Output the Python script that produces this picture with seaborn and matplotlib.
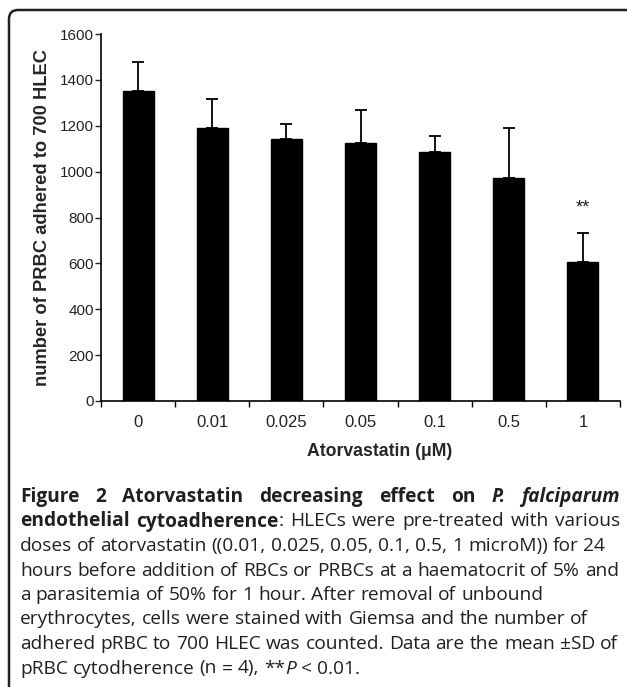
import matplotlib
matplotlib.use("Agg")
import matplotlib.pyplot as plt
from matplotlib.path import Path
from matplotlib.patches import PathPatch
import seaborn as sns
import pandas as pd

# ---- data ----
doses = ["0", "0.01", "0.025", "0.05", "0.1", "0.5", "1"]
mean_adhered = [1353, 1191, 1143, 1126, 1087, 971, 607]
sd_adhered = [123, 127, 64, 142, 68, 218, 124]
y_ticks = [0, 200, 400, 600, 800, 1000, 1200, 1400, 1600]
signif = ["", "", "", "", "", "", "**"]

W, H = 627, 687
sns.set_style("ticks")
plt.rcParams["font.family"] = ["Liberation Sans", "DejaVu Sans"]

fig = plt.figure(figsize=(W / 100, H / 100), dpi=100)
fig.patch.set_facecolor("white")

# frame (rounded top-left corner, open bottom)
bg = fig.add_axes([0, 0, 1, 1])
bg.set_xlim(0, W)
bg.set_ylim(H, 0)
bg.axis("off")
verts = [(9, H + 5), (9, 19), (9, 10), (18, 10), (627, 10)]
codes = [Path.MOVETO, Path.LINETO, Path.CURVE3, Path.CURVE3, Path.LINETO]
bg.add_patch(PathPatch(Path(verts, codes), fill=False, lw=1.8, edgecolor="#222222"))

# ---- chart ----
x0, x1, ytop, ybot = 101, 620, 34, 401
ax = fig.add_axes([x0 / W, 1 - ybot / H, (x1 - x0) / W, (ybot - ytop) / H])
df = pd.DataFrame({"dose": doses, "mean": mean_adhered})
sns.barplot(data=df, x="dose", y="mean", order=doses, color="black",
            width=0.42, errorbar=None, ax=ax, saturation=1, edgecolor="black")
xs = list(range(len(doses)))
ax.errorbar(xs, mean_adhered, yerr=[[0] * len(doses), sd_adhered], fmt="none",
            ecolor="black", elinewidth=1.3, capsize=4.5, capthick=1.3, zorder=3)
for xi, m, s, lab in zip(xs, mean_adhered, sd_adhered, signif):
    if lab:
        ax.annotate(lab, (xi, m + s), xytext=(0, 12), textcoords="offset points",
                    ha="center", va="bottom", fontsize=13, color="#222222")

ax.set_xlim(-0.5, len(doses) - 0.5)
ax.set_ylim(0, 1600)
ax.set_yticks(y_ticks)
ax.set_yticklabels([str(v) for v in y_ticks])
ax.set_xticks(xs)
ax.set_xticks([i - 0.5 for i in range(len(doses) + 1)], minor=True)
ax.tick_params(axis="x", which="major", length=0, pad=10, labelsize=12, labelcolor="#222222")
ax.tick_params(axis="x", which="minor", length=4, width=1, direction="out", color="black")
ax.tick_params(axis="y", which="major", length=4, width=1, direction="out", pad=1,
               labelsize=11, labelcolor="#222222")
sns.despine(ax=ax)
for sp in ("left", "bottom"):
    ax.spines[sp].set_linewidth(1.2)
    ax.spines[sp].set_color("black")
ax.set_facecolor("white")

ax.set_ylabel("number of PRBC adhered to 700 HLEC", fontsize=13.2, fontweight="bold")
ax.yaxis.set_label_coords((51 - x0) / (x1 - x0), 0.5)
ax.set_xlabel("Atorvastatin (\u03bcM)", fontsize=12.7, fontweight="bold")
ax.xaxis.set_label_coords((380 - x0) / (x1 - x0), (ybot - 443) / (ybot - ytop))

# ---- caption ----
CAP_FONT = ["Open Sans", "DejaVu Sans"]
CAP_SIZE = 13.8
CAP_COLOR = "#231f20"
renderer = fig.canvas.get_renderer()


def measure(txt, weight, style):
    t = fig.text(0, 0, txt, fontsize=CAP_SIZE, family=CAP_FONT, weight=weight, style=style)
    w = t.get_window_extent(renderer).width
    t.remove()
    return w


def to_words(segs):
    words, new_word = [], True
    for text, wt, st in segs:
        for i, p in enumerate(text.split(" ")):
            if i > 0:
                new_word = True
            if p == "":
                continue
            if new_word or not words:
                words.append([])
            words[-1].append((p, wt, st))
            new_word = False
    return words


def draw_line(y, segs, left=20, right=620, justify=False):
    words = to_words(segs)
    widths = [[measure(p, wt, st) for p, wt, st in w] for w in words]
    space = measure("a a", "normal", "normal") - measure("aa", "normal", "normal")
    if justify and len(words) > 1:
        total = sum(sum(w) for w in widths)
        gap = (right - left - total) / (len(words) - 1)
    else:
        gap = space
    x = left
    for w, ws in zip(words, widths):
        for (p, wt, st), pw in zip(w, ws):
            fig.text(x / W, 1 - y / H, p, fontsize=CAP_SIZE, family=CAP_FONT,
                     weight=wt, style=st, color=CAP_COLOR, va="baseline", ha="left")
            x += pw
        x += gap


B, N, I = "bold", "normal", "italic"
lines = [
    ([("Figure 2 Atorvastatin decreasing effect on ", B, N), ("P. falciparum", B, I)], True),
    ([("endothelial cytoadherence", B, N), (": HLECs were pre-treated with various", N, N)], True),
    ([("doses of atorvastatin ((0.01, 0.025, 0.05, 0.1, 0.5, 1 microM)) for 24", N, N)], False),
    ([("hours before addition of RBCs or PRBCs at a haematocrit of 5% and", N, N)], False),
    ([("a parasitemia of 50% for 1 hour. After removal of unbound", N, N)], False),
    ([("erythrocytes, cells were stained with Giemsa and the number of", N, N)], False),
    ([("adhered pRBC to 700 HLEC was counted. Data are the mean \u00b1SD of", N, N)], False),
    ([("pRBC cytodherence (n = 4), **", N, N), ("P", N, I), (" < 0.01.", N, N)], False),
]
base0, step = 502, 24.5
for k, (segs, just) in enumerate(lines):
    draw_line(base0 + k * step, segs, justify=just)

fig.savefig("out.png", dpi=100, facecolor="white")
